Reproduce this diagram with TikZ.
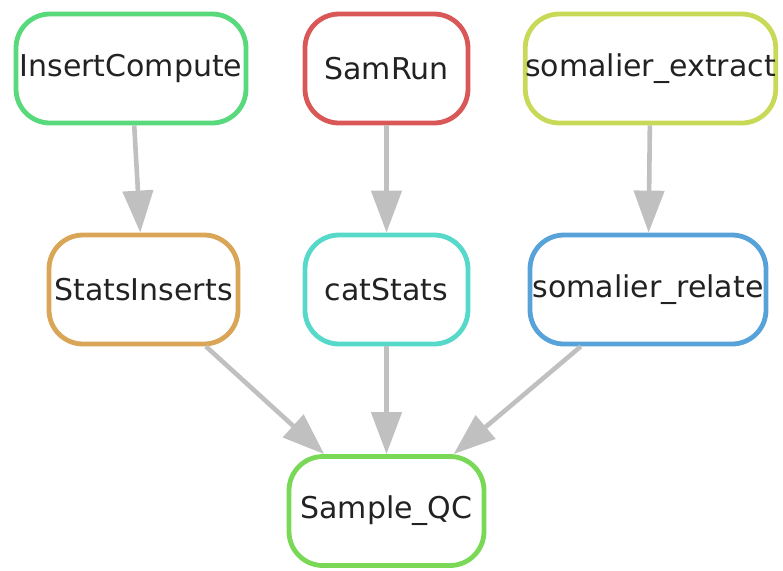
\documentclass[tikz,border=0pt]{standalone}
\usepackage{fontspec}
\setmainfont{DejaVu Sans}
\usetikzlibrary{arrows.meta}
\definecolor{icgreen}{HTML}{57D97C}
\definecolor{srred}{HTML}{D95757}
\definecolor{seyellow}{HTML}{C8D957}
\definecolor{siorange}{HTML}{D9A557}
\definecolor{csteal}{HTML}{57D9CA}
\definecolor{slblue}{HTML}{57A3D9}
\definecolor{qcgreen}{HTML}{79D957}
\definecolor{edgegray}{HTML}{C0C0C0}
\definecolor{labelgray}{HTML}{222222}

\begin{document}
\begin{tikzpicture}[x=0.5pt,y=-0.5pt,
	rule/.style={draw, line width=2.4pt, rounded corners=17pt, minimum height=54.5pt, inner sep=0pt, text=labelgray, font=\fontsize{15}{18}\selectfont},
	dep/.style={draw=edgegray, line width=2.3pt, -{Triangle[length=21pt,width=15pt]}}]
	\useasboundingbox (0,0) rectangle (783,570);
	% rules
	\node [rule, draw=icgreen, minimum width=115pt] (ic) at (131,68.5) {InsertCompute};
	\node [rule, draw=srred, minimum width=81.5pt] (sr) at (386.5,68.5) {SamRun};
	\node [rule, draw=seyellow, minimum width=124.5pt] (se) at (650.5,68.5) {somalier\_extract};
	\node [rule, draw=siorange, minimum width=94.5pt] (si) at (143.5,289.5) {StatsInserts};
	\node [rule, draw=csteal, minimum width=81.5pt] (cs) at (386.5,289.5) {catStats};
	\node [rule, draw=slblue, minimum width=118pt] (sl) at (648,289.5) {somalier\_relate};
	\node [rule, draw=qcgreen, minimum width=97.5pt] (qc) at (386.5,511) {Sample\_QC};
	% dependencies
	\foreach \a/\b in {ic/si,sr/cs,se/sl,si/qc,cs/qc,sl/qc}
	\draw [dep] (\a) -- (\b);
\end{tikzpicture}
\end{document}
